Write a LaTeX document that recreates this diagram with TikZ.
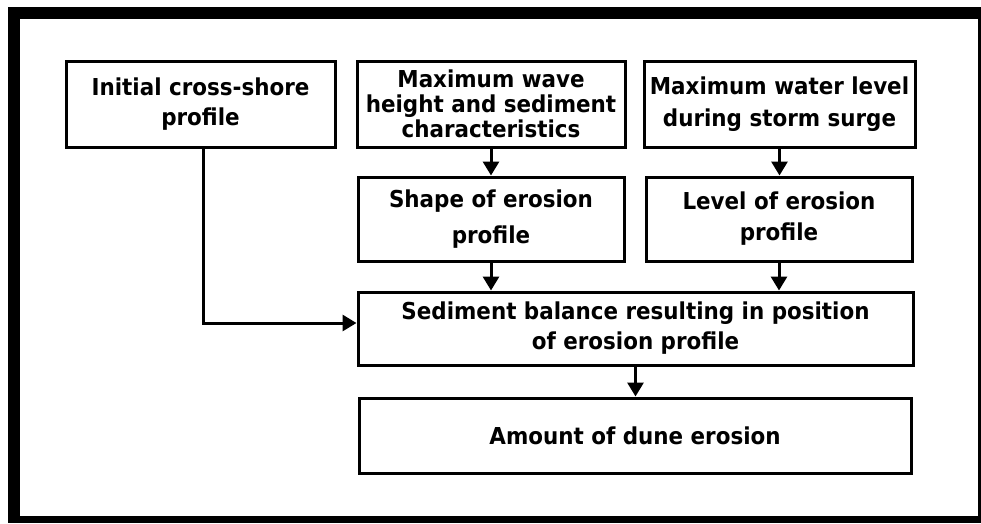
\documentclass[tikz,border=0pt]{standalone}
\usepackage{fontspec}
\usetikzlibrary{arrows.meta}
\newfontfamily\labelfont{DejaVu Sans}[FakeStretch=0.92]
\newcommand{\lblfont}[1]{\labelfont\bfseries\fontsize{23.3}{#1}\selectfont}
\tikzset{
  flowbox/.style={draw=black, line width=3pt, fill=white, rectangle,
    inner sep=0pt, align=center, font=\lblfont{30}},
  flowarrow/.style={line width=3pt, -{Triangle[length=14pt,width=16pt]}},
}
\begin{document}
\begin{tikzpicture}[x=1pt, y=-1pt]
  % page and heavy black frame
  \fill[white] (0,0) rectangle (981,523);
  \useasboundingbox (0,0) rectangle (981,523);
  \fill[black] (8,7) rectangle (981,523);
  \fill[white] (20,19) rectangle (978,516);

  % boxes
  \node[flowbox, minimum width=269pt, minimum height=86pt] (init) at (200.5,104)
    {Initial cross-shore\\profile};
  \node[flowbox, minimum width=268pt, minimum height=86pt, font=\lblfont{25}] (wave) at (491,104)
    {Maximum wave\\height and sediment\\characteristics};
  \node[flowbox, minimum width=271pt, minimum height=86pt, font=\lblfont{32}] (water) at (779.5,104)
    {Maximum water level\\during storm surge};
  \node[flowbox, minimum width=266pt, minimum height=84pt, font=\lblfont{36}] (shape) at (491,219)
    {Shape of erosion\\profile};
  \node[flowbox, minimum width=266pt, minimum height=84pt, font=\lblfont{31}] (level) at (779,219)
    {Level of erosion\\profile};
  \node[flowbox, minimum width=555pt, minimum height=73pt] (balance) at (635.5,328.5)
    {Sediment balance resulting in position\\of erosion profile};
  \node[flowbox, minimum width=552pt, minimum height=75pt] (amount) at (635,435.5)
    {Amount of dune erosion};

  % connectors
  \draw[flowarrow] (wave.south) -- (shape.north);
  \draw[flowarrow] (water.south) -- (water.south |- level.north);
  \draw[flowarrow] (shape.south) -- (shape.south |- balance.north);
  \draw[flowarrow] (level.south) -- (level.south |- balance.north);
  \draw[flowarrow] (balance.south) -- (balance.south |- amount.north);
  \draw[flowarrow] ([xshift=2.5pt]init.south) |- ([yshift=5.5pt]balance.west);
\end{tikzpicture}
\end{document}
